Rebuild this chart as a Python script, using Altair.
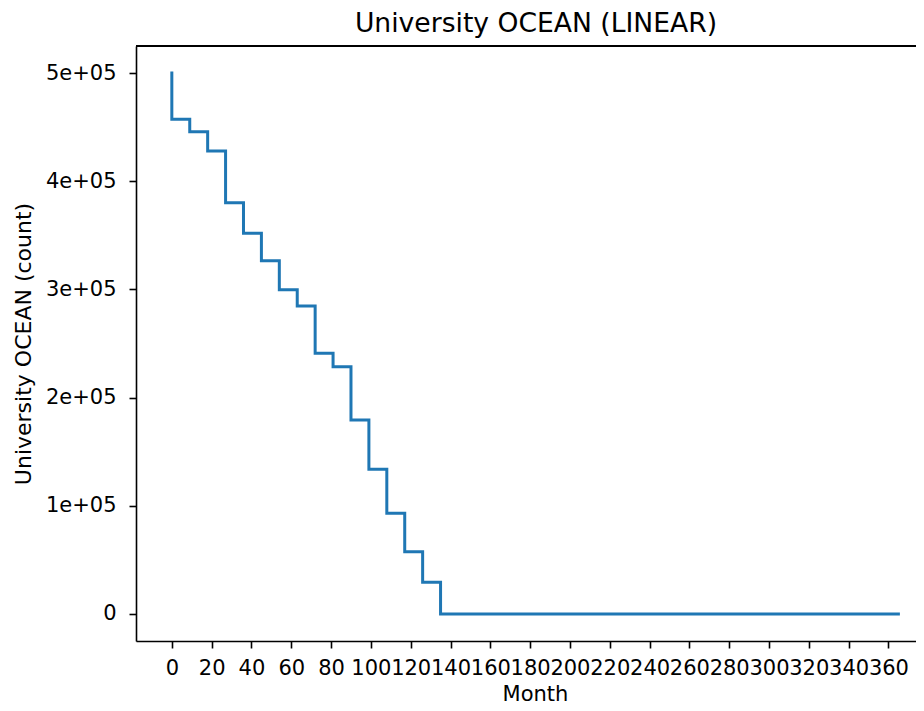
import altair as alt
import pandas as pd

# Step points (value holds from previous month to this month; step-before)
months = [0, 9, 18, 27, 36, 45, 54, 63, 72, 81, 90, 99, 108, 117, 126, 135, 365]
counts = [500000, 457300, 445800, 428000, 380200, 351900, 326600, 299800,
          284700, 241000, 228600, 179300, 133800, 93100, 57600, 29300, 0]

x_ticks = list(range(0, 361, 20))
y_ticks = [0, 100000, 200000, 300000, 400000, 500000]
title_text = "University OCEAN (LINEAR)"

df = pd.DataFrame({"Month": months, "Count": counts})

W, H = 780, 595
FONT = "DejaVu Sans"

line = alt.Chart(df).mark_line(
    interpolate="step-before", color="#1f77b4", strokeWidth=3, strokeCap="square"
).encode(
    x=alt.X("Month:Q", scale=alt.Scale(domain=[-18, 373.85], nice=False, zero=False),
            axis=alt.Axis(values=x_ticks, title="Month", grid=False,
                          labelFont=FONT, labelFontSize=21, labelColor="black",
                          labelPadding=9, labelBaseline="top", labelFlush=False,
                          labelOverlap=False, labelBound=False,
                          tickSize=7, tickWidth=1.6, tickColor="black",
                          domainColor="black", domainWidth=1.6,
                          titleFont=FONT, titleFontSize=21, titleFontWeight="normal",
                          titleColor="black", titleX=399, titleY=59.5,
                          titleAlign="center", titleBaseline="alphabetic")),
    y=alt.Y("Count:Q", scale=alt.Scale(domain=[-25000, 525000], nice=False, zero=False),
            axis=alt.Axis(values=y_ticks, title="University OCEAN (count)", grid=False,
                          labelExpr="datum.value == 0 ? '0' : format(datum.value / 100000, 'd') + 'e+05'",
                          labelFont=FONT, labelFontSize=21, labelColor="black",
                          labelPadding=13, labelAlign="right", labelBaseline="middle",
                          labelFlush=False, labelOverlap=False, labelBound=False,
                          tickSize=7, tickWidth=1.6, tickColor="black",
                          domainColor="black", domainWidth=1.6,
                          titleFont=FONT, titleFontSize=22, titleFontWeight="normal",
                          titleColor="black", titleX=-106, titleY=H / 2,
                          titleAngle=270, titleAlign="center", titleBaseline="alphabetic")),
)

top_spine = alt.Chart(df).mark_rule(color="black", strokeWidth=1.6).encode(
    x=alt.value(0), x2=alt.value(W), y=alt.value(0)
)

title_mark = alt.Chart(pd.DataFrame({"t": [title_text]})).mark_text(
    font=FONT, fontSize=26.6, color="black", align="center", baseline="alphabetic"
).encode(text="t:N", x=alt.value(400), y=alt.value(-14.3))

chart = alt.layer(line, top_spine, title_mark).properties(
    width=W, height=H,
    autosize=alt.AutoSizeParams(type="none"),
    padding={"left": 128, "top": 38, "right": 0, "bottom": 66},
).configure_view(stroke=None).configure(background="white")

chart.save("out.html", embed_options={"renderer": "svg", "actions": False})
